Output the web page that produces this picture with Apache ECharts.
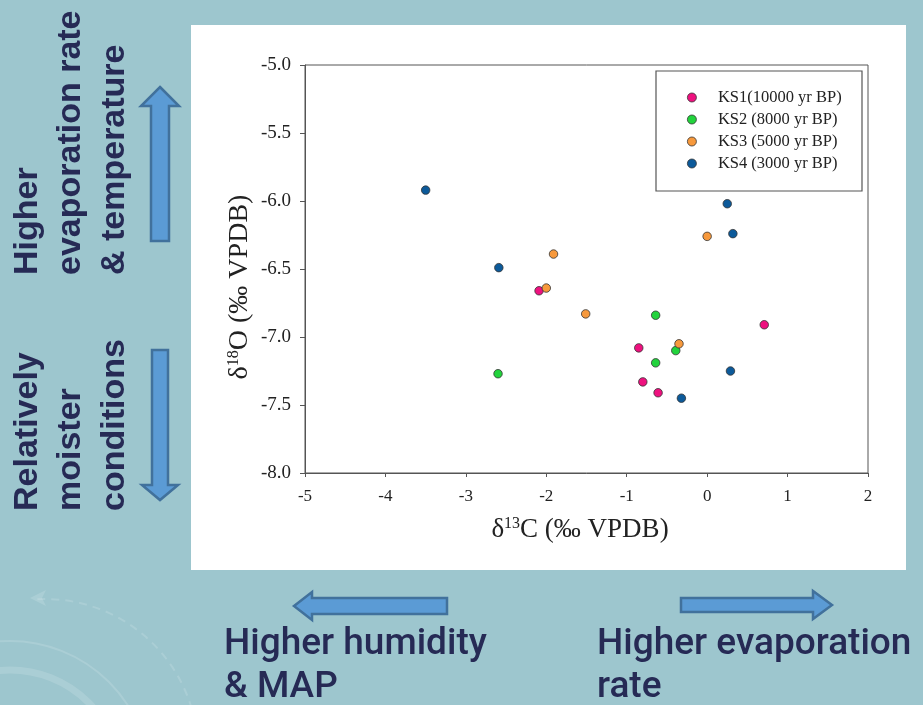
<!DOCTYPE html>
<html>
<head>
<meta charset="utf-8">
<script src="https://cdn.jsdelivr.net/npm/echarts@6/dist/echarts.min.js"></script>
<style>
html,body{margin:0;padding:0;background:#9DC6CE;}
#c{width:923px;height:705px;}
</style>
</head>
<body>
<div id="c"></div>
<script>
// ---- data ----
const seriesNames = ['KS1(10000 yr BP)', 'KS2 (8000 yr BP)', 'KS3 (5000 yr BP)', 'KS4 (3000 yr BP)'];
const ks1X = [-2.09, -0.85, -0.80, -0.61, 0.71];
const ks1Y = [-6.66, -7.08, -7.33, -7.41, -6.91];
const ks2X = [-0.64, -0.39, -0.64, -2.60];
const ks2Y = [-6.84, -7.10, -7.19, -7.27];
const ks3X = [-1.91, -2.00, -1.51, 0.00, -0.35];
const ks3Y = [-6.39, -6.64, -6.83, -6.26, -7.05];
const ks4X = [-3.50, -2.59, 0.25, 0.32, 0.29, -0.32];
const ks4Y = [-5.92, -6.49, -6.02, -6.24, -7.25, -7.45];
const xTicks = [-5, -4, -3, -2, -1, 0, 1, 2];
const yTicks = [-5.0, -5.5, -6.0, -6.5, -7.0, -7.5, -8.0];

const colors = ['#EE117F', '#22D33C', '#F7993C', '#0C5A9A'];
const xs = [ks1X, ks2X, ks3X, ks4X];
const ys = [ks1Y, ks2Y, ks3Y, ks4Y];

const chart = echarts.init(document.getElementById('c'), null, {renderer: 'canvas'});
const serif = '"Liberation Serif", "Times New Roman", serif';
const navy = '#262A55';
const arrowFill = '#5B9BD5', arrowStroke = '#41719C';

function arrow(points) {
  return {type: 'polygon', shape: {points: points}, style: {fill: arrowFill, stroke: arrowStroke, lineWidth: 2.5}, z: 5};
}
function leftText(txt, x, y) {
  return {type: 'text', x: x, y: y, rotation: Math.PI / 2, z: 5,
    style: {text: txt, fill: navy, font: 'bold 34px "Liberation Sans", Arial, sans-serif', align: 'left', verticalAlign: 'middle'}};
}
function bottomText(txt, x, y) {
  return {type: 'text', x: x, y: y, z: 5,
    style: {text: txt, fill: navy, font: '500 37px Roboto, sans-serif', align: 'left', verticalAlign: 'middle'}};
}

const series = seriesNames.map((n, i) => ({
  name: n, type: 'scatter', symbol: 'circle', symbolSize: 8.5,
  itemStyle: {color: colors[i], borderColor: '#333', borderWidth: 0.8, opacity: 1},
  data: xs[i].map((x, j) => [x, ys[i][j]]), z: 3
}));

const option = {
  backgroundColor: '#9DC6CE',
  animation: false,
  grid: {left: 305, right: 55, top: 65, bottom: 232, show: true, borderColor: '#555', borderWidth: 1, backgroundColor: '#fff'},
  xAxis: {
    type: 'value', min: xTicks[0], max: xTicks[xTicks.length - 1], interval: 1,
    axisLine: {show: true, onZero: false, lineStyle: {color: '#555', width: 1}},
    axisTick: {show: true, length: 4, lineStyle: {color: '#555'}},
    splitLine: {show: false},
    axisLabel: {color: '#222', fontFamily: serif, fontSize: 17, margin: 15}
  },
  yAxis: {
    type: 'value', min: yTicks[yTicks.length - 1], max: yTicks[0], interval: 0.5,
    axisLine: {show: true, onZero: false, lineStyle: {color: '#555', width: 1}},
    axisTick: {show: true, length: 5, lineStyle: {color: '#555'}},
    splitLine: {show: false},
    axisLabel: {color: '#222', fontFamily: serif, fontSize: 19, margin: 14, formatter: v => v.toFixed(1)}
  },
  legend: {
    orient: 'vertical', left: 687, top: 89, padding: 0, itemGap: 5,
    itemWidth: 42, itemHeight: 9, icon: 'circle',
    textStyle: {color: '#222', fontFamily: serif, fontSize: 16.5, lineHeight: 14},
    data: seriesNames.map((n, i) => ({name: n, itemStyle: {color: colors[i], borderColor: '#333', borderWidth: 0.8}}))
  },
  series: series,
  graphic: [
    // white panel
    {type: 'rect', shape: {x: 191, y: 25, width: 715, height: 545}, style: {fill: '#fff'}, z: -10, silent: true},
    // decorative faint arcs
    {type: 'circle', shape: {cx: 10, cy: 781, r: 140}, style: {fill: 'none', stroke: 'rgba(255,255,255,0.14)', lineWidth: 2}, z: -5},
    {type: 'circle', shape: {cx: 10, cy: 781, r: 111}, style: {fill: 'none', stroke: 'rgba(255,255,255,0.14)', lineWidth: 7}, z: -5},
    {type: 'arc', shape: {cx: 45, cy: 752, r: 153, startAngle: -Math.PI / 2 - 0.05, endAngle: -0.3, clockwise: true},
      style: {stroke: 'rgba(255,255,255,0.14)', lineWidth: 2, lineDash: [8, 6], fill: 'none'}, z: -5},
    {type: 'polygon', shape: {points: [[30, 598], [46, 590], [42, 598], [46, 606]]}, style: {fill: 'rgba(255,255,255,0.14)'}, z: -5},
    // legend box
    {type: 'rect', shape: {x: 656, y: 71, width: 206, height: 120}, style: {fill: '#fff', stroke: '#555', lineWidth: 1.2}, z: 4},
    // axis titles
    {type: 'text', x: 580, y: 530, z: 5, style: {
      rich: {n: {font: '27px ' + serif, fill: '#222'}, s: {font: '16px ' + serif, fill: '#222', padding: [0, 0, 12, 0]}},
      text: '{n|δ}{s|13}{n|C (‰ VPDB)}', align: 'center', verticalAlign: 'middle'}},
    {type: 'text', x: 240, y: 287, rotation: Math.PI / 2, z: 5, style: {
      rich: {n: {font: '28px ' + serif, fill: '#222'}, s: {font: '16px ' + serif, fill: '#222', padding: [0, 0, 12, 0]}},
      text: '{n|δ}{s|18}{n|O (‰ VPDB)}', align: 'center', verticalAlign: 'middle'}},
    // arrows
    arrow([[160, 87], [179, 106], [169, 106], [169, 241], [151, 241], [151, 106], [141, 106]]),
    arrow([[152, 350], [168, 350], [168, 485], [178, 485], [160, 500], [142, 485], [152, 485]]),
    arrow([[294, 606], [312, 592], [312, 598], [447, 598], [447, 614], [312, 614], [312, 620]]),
    arrow([[681, 598], [813, 598], [813, 591], [832, 605], [813, 619], [813, 612], [681, 612]]),
    // left texts
    leftText('Higher', 28, 275),
    leftText('evaporation rate', 71, 275),
    leftText('& temperature', 115, 275),
    leftText('Relatively', 28, 511),
    leftText('moister', 71, 511),
    leftText('conditions', 115, 511),
    // bottom texts
    bottomText('Higher humidity', 224, 645),
    bottomText('& MAP', 224, 688),
    bottomText('Higher evaporation', 597, 645),
    bottomText('rate', 597, 688)
  ]
};
chart.setOption(option);
</script>
</body>
</html>
